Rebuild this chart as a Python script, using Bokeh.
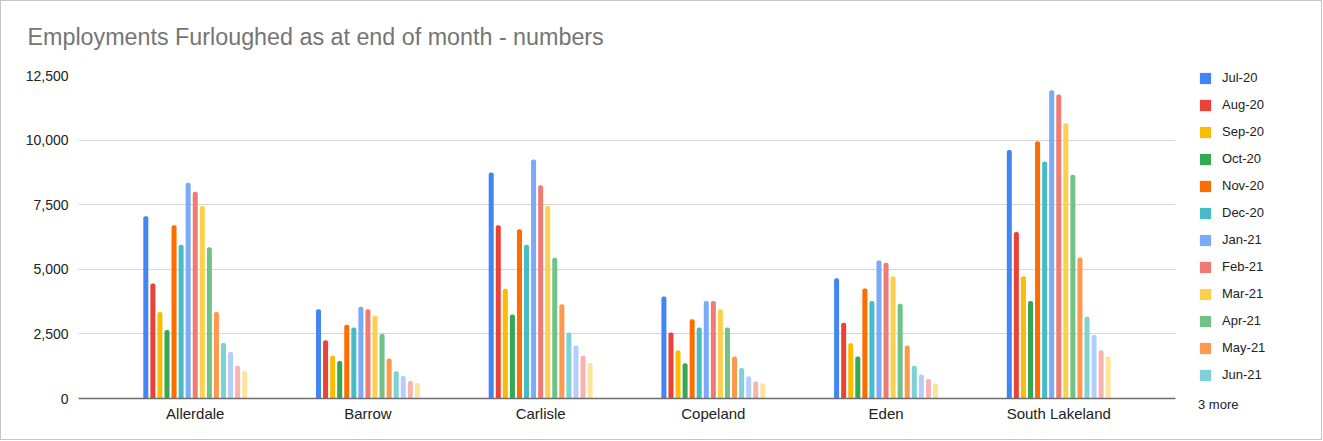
from bokeh.plotting import figure
from bokeh.layouts import row
from bokeh.models import (ColumnDataSource, FactorRange, Range1d, Legend, LegendItem,
                          NumeralTickFormatter, FixedTicker, Title)
from bokeh.transform import dodge
from bokeh.embed import file_html
from bokeh.resources import INLINE

districts = ["Allerdale", "Barrow", "Carlisle", "Copeland", "Eden", "South Lakeland"]
months = ["Jul-20", "Aug-20", "Sep-20", "Oct-20", "Nov-20", "Dec-20",
          "Jan-21", "Feb-21", "Mar-21", "Apr-21", "May-21", "Jun-21",
          "Jul-21", "Aug-21", "Sep-21"]

jul_20 = [7050, 3450, 8750, 3950, 4650, 9620]
aug_20 = [4450, 2250, 6700, 2550, 2930, 6440]
sep_20 = [3350, 1650, 4250, 1870, 2140, 4730]
oct_20 = [2650, 1450, 3250, 1360, 1630, 3770]
nov_20 = [6700, 2850, 6550, 3070, 4260, 9960]
dec_20 = [5950, 2750, 5950, 2750, 3770, 9170]
jan_21 = [8350, 3550, 9250, 3770, 5340, 11930]
feb_21 = [8000, 3450, 8250, 3770, 5250, 11760]
mar_21 = [7450, 3200, 7450, 3450, 4730, 10650]
apr_21 = [5850, 2500, 5450, 2750, 3670, 8660]
may_21 = [3350, 1550, 3650, 1630, 2050, 5460]
jun_21 = [2150, 1050, 2550, 1180, 1270, 3160]
jul_21 = [1800, 870, 2050, 860, 930, 2460]
aug_21 = [1270, 680, 1650, 660, 750, 1870]
sep_21 = [1050, 600, 1370, 590, 580, 1630]

series = [jul_20, aug_20, sep_20, oct_20, nov_20, dec_20, jan_21, feb_21,
          mar_21, apr_21, may_21, jun_21, jul_21, aug_21, sep_21]

colors = ["#4285F4", "#EA4335", "#FBBC04", "#34A853", "#FF6D01", "#46BDC6",
          "#7BAAF7", "#F07B72", "#FCD04F", "#71C287", "#FF994D", "#7ED1D7",
          "#B3CEFB", "#F7B4AE", "#FDE49B"]

y_ticks = [0, 2500, 5000, 7500, 10000, 12500]
title_text = "Employments Furloughed as at end of month - numbers"
more_text = "3 more"
legend_shown = 12

data = {"district": districts}
for m, s in zip(months, series):
    data[m] = s
source = ColumnDataSource(data)

FONT = "Liberation Sans"

# ---------------- main chart ----------------
p = figure(x_range=FactorRange(factors=districts, range_padding=0.176,
                               range_padding_units="absolute"),
           y_range=Range1d(0, 12500),
           width=1184, height=438,
           output_backend="svg", toolbar_location=None,
           min_border_left=77, min_border_right=10,
           min_border_top=74, min_border_bottom=41)
p.outline_line_color = None
p.background_fill_color = "white"
p.border_fill_color = "white"

p.add_layout(Title(text=" ", text_font_size="7.5px"), "above")
p.title.text = title_text
p.title.align = "left"
p.title.offset = -51
p.title.text_font = FONT
p.title.text_font_size = "23.3px"
p.title.text_font_style = "normal"
p.title.text_color = "#757575"

pitch = 0.0409
bar_w = 0.029
for i, (m, c) in enumerate(zip(months, colors)):
    p.vbar(x=dodge("district", (i - 7) * pitch, range=p.x_range), top=m,
           width=bar_w, source=source, fill_color=c, line_color=None,
           border_radius=(2, 2, 0, 0))

p.xgrid.grid_line_color = None
p.ygrid.grid_line_color = "#d6d6d6"
p.ygrid.grid_line_width = 1

p.yaxis.ticker = FixedTicker(ticks=y_ticks)
p.yaxis.formatter = NumeralTickFormatter(format="0,0")
p.yaxis.axis_line_color = None
p.yaxis.major_tick_line_color = None
p.yaxis.minor_tick_line_color = None
p.yaxis.major_label_standoff = 4
p.yaxis.major_label_text_font = FONT
p.yaxis.major_label_text_font_size = "14px"
p.yaxis.major_label_text_color = "#222222"

p.xaxis.axis_line_color = "#6e6e6e"
p.xaxis.axis_line_width = 1.5
p.xaxis.major_tick_line_color = None
p.xaxis.minor_tick_line_color = None
p.xaxis.major_label_standoff = 0
p.xaxis.major_label_text_font = FONT
p.xaxis.major_label_text_font_size = "15px"
p.xaxis.major_label_text_color = "#222222"

# ---------------- legend panel ----------------
lf = figure(width=136, height=438, x_range=(0, 1), y_range=(0, 1),
            output_backend="svg", toolbar_location=None,
            x_axis_location=None, y_axis_location=None,
            min_border_left=13, min_border_right=0,
            min_border_top=69, min_border_bottom=0)
lf.grid.visible = False
lf.outline_line_color = None
lf.background_fill_color = "white"
lf.border_fill_color = "white"

try:
    lf.frame_align = False
    p.frame_align = False
    aligned = False
except Exception:
    aligned = True

items = []
for m, c in zip(months[:legend_shown], colors[:legend_shown]):
    r = lf.vbar(x=[0.5], top=[0], bottom=[0], width=0.1, fill_color=c,
                line_color=None, border_radius=2)
    items.append(LegendItem(label=m, renderers=[r]))

legend = Legend(items=items, location=((0, 15) if aligned else "top_left"),
                orientation="vertical",
                border_line_color=None, background_fill_alpha=0,
                glyph_width=14, glyph_height=14, label_height=14, spacing=12,
                label_standoff=10, padding=0, margin=0,
                label_text_font=FONT, label_text_font_size="13px",
                label_text_color="#222222")
lf.add_layout(legend)

dummy = lf.vbar(x=[0.5], top=[0], bottom=[0], width=0.1, fill_alpha=0,
                line_color=None)
more_legend = Legend(items=[LegendItem(label=more_text, renderers=[dummy])],
                     location=((0, 0) if aligned else (0, 27)),
                     border_line_color=None, background_fill_alpha=0,
                     glyph_width=0, glyph_height=14, label_height=14,
                     label_standoff=0, padding=0, margin=0,
                     label_text_font=FONT, label_text_font_size="13px",
                     label_text_color="#222222")
lf.add_layout(more_legend)

layout = row(p, lf, spacing=0)
layout.styles = {"border": "1px solid #c4c4c4"}

open("out.html", "w").write(file_html(layout, INLINE))
